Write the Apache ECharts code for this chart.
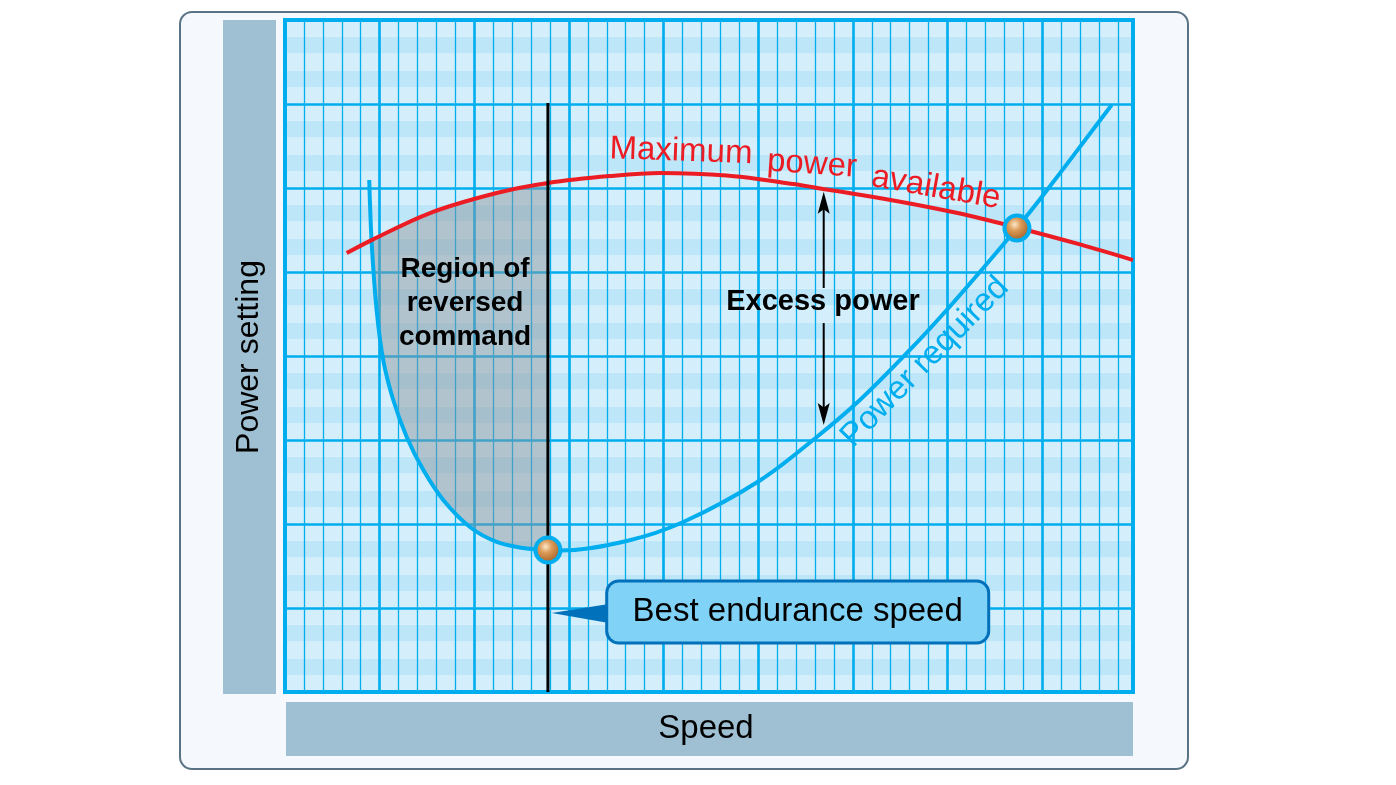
<!DOCTYPE html>
<html>
<head>
<meta charset="utf-8">
<script src="https://cdn.jsdelivr.net/npm/echarts@6/dist/echarts.min.js"></script>
<style>
html, body { margin: 0; padding: 0; background: #fff; }
#main { width: 1396px; height: 785px; }
</style>
</head>
<body>
<div id="main"></div>
<script>
// speed in minor grid columns, power in horizontal bands (5 bands per major row)
var requiredSpeed = [4.45, 4.58, 4.84, 5.19, 5.72, 6.43, 7.31, 8.36, 9.77, 11.18, 12.59, 13.91, 14.53, 18.05, 21.04, 25.09, 28.09, 30.37, 33.11, 34.96, 36.89, 38.67, 40.06, 43.67];
var requiredPower = [30.48, 26.73, 22.74, 19.76, 17.38, 15.18, 13.21, 11.43, 9.82, 8.93, 8.57, 8.45, 8.42, 8.99, 10.12, 12.59, 15.18, 17.38, 20.48, 22.74, 25.24, 27.62, 29.58, 34.94];

var availableSpeed = [3.26, 4.58, 7.66, 11.18, 13.89, 17.17, 19.81, 23.33, 26.85, 28.62, 32.14, 35.66, 38.65, 42.00, 44.80];
var availablePower = [26.13, 26.90, 28.51, 29.70, 30.30, 30.71, 30.89, 30.74, 30.24, 29.91, 29.26, 28.48, 27.65, 26.64, 25.71];

// outline of the reversed command region
var shadeSpeed = [4.58, 6.0, 7.66, 9.5, 11.18, 12.6, 13.89, 13.89, 12.59, 11.18, 9.77, 8.36, 7.31, 6.43, 5.72, 5.19, 4.84, 4.58];
var shadePower = [26.90, 27.8, 28.51, 29.3, 29.70, 30.05, 30.30, 8.45, 8.57, 8.93, 9.82, 11.43, 13.21, 15.18, 17.38, 19.76, 22.74, 26.73];

var bestSpeed = 13.89;
var bestLine = [[bestSpeed, 35.06], [bestSpeed, 0]];
var crossings = [[13.89, 8.45], [38.67, 27.62]];
// [speed, from, to]
var excessArrows = [[28.46, 24.05, 29.78], [28.46, 21.96, 15.89]];

var speedMax = 44.8;
var powerMax = 40;

var cyan = '#00aeef';
var font = '"Liberation Sans", Arial, Helvetica, sans-serif';

function zip(a, b) {
    return a.map(function (v, i) { return [v, b[i]]; });
}

var myChart = echarts.init(document.getElementById('main'));

var hidden = { show: false };
var option = {
    animation: false,
    grid: {
        left: 285, top: 20, width: 848, height: 672,
        show: true, borderColor: cyan, borderWidth: 4
    },
    xAxis: [
        {
            type: 'value', min: 0, max: speedMax, interval: 1,
            axisLine: hidden, axisTick: hidden, axisLabel: hidden,
            splitLine: { show: true, lineStyle: { color: cyan, width: 1.3 } }
        },
        {
            type: 'value', min: 0, max: speedMax, interval: 5,
            axisLine: hidden, axisTick: hidden, axisLabel: hidden,
            splitLine: { show: true, lineStyle: { color: cyan, width: 2.6 } }
        }
    ],
    yAxis: [
        {
            type: 'value', min: 0, max: powerMax, interval: 5,
            axisLine: hidden, axisTick: hidden, axisLabel: hidden,
            splitLine: { show: true, lineStyle: { color: cyan, width: 2.6 } }
        },
        {
            type: 'value', min: 0, max: powerMax, interval: 1, position: 'left', z: -1,
            axisLine: hidden, axisTick: hidden, axisLabel: hidden,
            splitLine: hidden,
            splitArea: {
                show: true,
                areaStyle: { color: ['#d4effb', '#bde6f9', '#d4effb', '#bde6f9', '#d4effb'] }
            }
        }
    ],
    series: [
        {
            type: 'custom',
            z: 1,
            data: zip(shadeSpeed, shadePower),
            renderItem: function (params, api) {
                if (params.dataIndex !== 0) return null;
                var pts = shadeSpeed.map(function (x, i) {
                    return api.coord([x, shadePower[i]]);
                });
                return {
                    type: 'polygon',
                    shape: { points: pts },
                    style: { fill: 'rgba(141,148,155,0.48)' }
                };
            }
        },
        {
            name: 'Power required',
            type: 'line',
            z: 3,
            smooth: 0.35,
            showSymbol: false,
            data: zip(requiredSpeed, requiredPower),
            lineStyle: { color: cyan, width: 4 }
        },
        {
            name: 'Maximum power available',
            type: 'line',
            z: 3,
            smooth: 0.35,
            showSymbol: false,
            data: zip(availableSpeed, availablePower),
            lineStyle: { color: '#ec1c24', width: 4 }
        },
        {
            type: 'line',
            z: 4,
            showSymbol: false,
            data: bestLine,
            lineStyle: { color: '#000', width: 3 }
        },
        {
            type: 'custom',
            z: 4,
            data: excessArrows,
            renderItem: function (params, api) {
                var x = api.value(0);
                var p0 = api.coord([x, api.value(1)]);
                var p1 = api.coord([x, api.value(2)]);
                var dir = p1[1] > p0[1] ? 1 : -1;
                var len = 22, w = 6;
                return {
                    type: 'group',
                    children: [
                        {
                            type: 'line',
                            shape: { x1: p0[0], y1: p0[1], x2: p1[0], y2: p1[1] - dir * len * 0.7 },
                            style: { stroke: '#000', lineWidth: 2 }
                        },
                        {
                            type: 'polygon',
                            shape: {
                                points: [
                                    [p1[0], p1[1]],
                                    [p1[0] - w, p1[1] - dir * len],
                                    [p1[0], p1[1] - dir * len * 0.8],
                                    [p1[0] + w, p1[1] - dir * len]
                                ]
                            },
                            style: { fill: '#000' }
                        }
                    ]
                };
            }
        },
        {
            type: 'scatter',
            z: 5,
            data: crossings,
            symbol: 'circle',
            symbolSize: 25,
            itemStyle: {
                color: new echarts.graphic.RadialGradient(0.42, 0.38, 0.62, [
                    { offset: 0, color: '#fbe6c8' },
                    { offset: 0.35, color: '#dc9b58' },
                    { offset: 1, color: '#9a5820' }
                ]),
                borderColor: cyan,
                borderWidth: 4,
                opacity: 1
            }
        }
    ]
};
myChart.setOption(option);

function px(x, y) {
    return myChart.convertToPixel({ gridIndex: 0 }, [x, y]);
}

function label(text, pos, size, color, rot, weight) {
    return {
        type: 'text',
        x: pos[0], y: pos[1],
        rotation: rot * Math.PI / 180,
        z: 100,
        style: {
            text: text,
            fill: color,
            font: (weight || 'normal') + ' ' + size + 'px ' + font,
            align: 'center', verticalAlign: 'middle',
            textAlign: 'center', textVerticalAlign: 'middle',
            lineHeight: 34
        }
    };
}

var tip = px(bestSpeed + 0.2, 4.70);
var box = { x: tip[0] + 55, y: tip[1] - 32, w: 382, h: 62 };

myChart.setOption({
    graphic: [
        {
            type: 'rect', z: -10,
            shape: { x: 180, y: 12, width: 1008, height: 757, r: 12 },
            style: { fill: '#f5f9fd', stroke: '#5a7384', lineWidth: 2 }
        },
        {
            type: 'rect', z: -9,
            shape: { x: 223, y: 20, width: 53, height: 674 },
            style: { fill: '#9fc0d2' }
        },
        {
            type: 'rect', z: -9,
            shape: { x: 286, y: 702, width: 847, height: 54 },
            style: { fill: '#9fc0d2' }
        },
        label('Power setting', [249, 357], 32, '#000', 90),
        label('Speed', [706, 729], 33, '#000', 0),
        label('Region of\nreversed\ncommand', px(9.51, 23.15), 28, '#000', 0, 'bold'),
        label('Excess power', px(28.42, 23.2), 29, '#000', 0, 'bold'),
        label('Maximum', px(20.92, 32.17), 33, '#ec1c24', -2),
        label('power', px(27.84, 31.40), 33, '#ec1c24', -4),
        label('available', px(34.39, 30.0), 33, '#ec1c24', -10),
        label('Power required', px(33.81, 19.64), 33, cyan, 45.5),
        {
            type: 'polygon', z: 100,
            shape: { points: [[tip[0], tip[1]], [box.x + 2, tip[1] - 9], [box.x + 2, tip[1] + 10]] },
            style: { fill: '#0071ba' }
        },
        {
            type: 'rect', z: 100,
            shape: { x: box.x, y: box.y, width: box.w, height: box.h, r: 12 },
            style: { fill: '#80d3f6', stroke: '#0071ba', lineWidth: 3 }
        },
        label('Best endurance speed', [box.x + box.w / 2, box.y + box.h / 2], 33, '#000', 0)
    ]
});
</script>
</body>
</html>
